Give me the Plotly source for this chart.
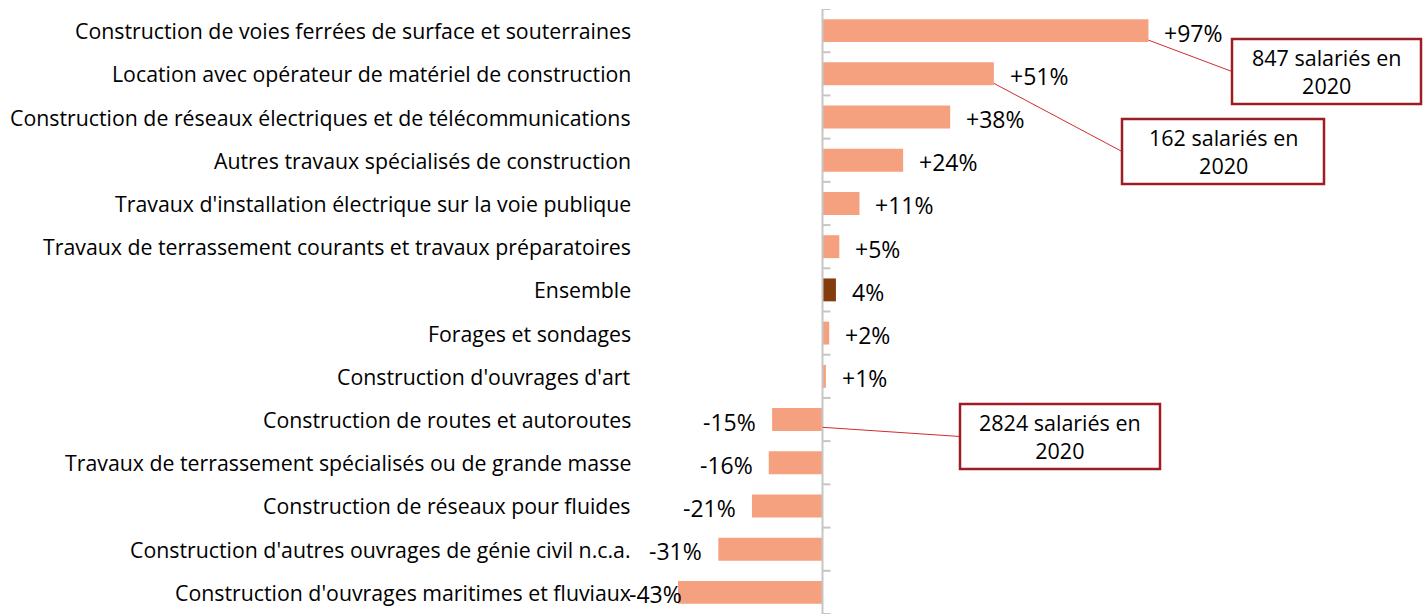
import plotly.graph_objects as go

categories = [
    "Construction de voies ferrées de surface et souterraines",
    "Location avec opérateur de matériel de construction",
    "Construction de réseaux électriques et de télécommunications",
    "Autres travaux spécialisés de construction",
    "Travaux d'installation électrique sur la voie publique",
    "Travaux de terrassement courants et travaux préparatoires",
    "Ensemble",
    "Forages et sondages",
    "Construction d'ouvrages d'art",
    "Construction de routes et autoroutes",
    "Travaux de terrassement spécialisés ou de grande masse",
    "Construction de réseaux pour fluides",
    "Construction d'autres ouvrages de génie civil n.c.a.",
    "Construction d'ouvrages maritimes et fluviaux",
]
values = [97, 51, 38, 24, 11, 5, 4, 2, 1, -15, -16, -21, -31, -43]

callout_rows = [0, 1, 9]
callout_texts = ["847 salariés en<br>2020", "162 salariés en<br>2020", "2824 salariés en<br>2020"]

# ---- layout geometry (pixels) ----
W, H = 1427, 614
TOP = 9
ZERO_PX = 822.5
SCALE = 3.36  # px per percentage point
x_lo = -ZERO_PX / SCALE
x_hi = (W - ZERO_PX) / SCALE
n = len(categories)
row_h = (H - TOP) / n

def px_to_x(px):
    return (px - ZERO_PX) / SCALE

def py_to_row(py):
    return (py - TOP) / row_h - 0.5

def px_paper(px):
    return px / W

def py_paper(py):
    return (H - py) / (H - TOP)

BAR_COLOR = "#F5A07F"
ENS_COLOR = "#843C0C"
colors = [ENS_COLOR if c == "Ensemble" else BAR_COLOR for c in categories]

fig = go.Figure(go.Bar(
    x=values, y=categories, orientation="h",
    marker=dict(color=colors, line=dict(width=0)),
    width=0.53, hoverinfo="skip",
))

FONT = "Open Sans"
annotations = []
# category labels
for c in categories:
    annotations.append(dict(
        x=px_paper(633), xref="paper", y=c, yref="y",
        text=c, showarrow=False, xanchor="right", yanchor="middle",
        font=dict(family=FONT, size=21.3, color="#000000"),
    ))
# value labels
for i, (c, v) in enumerate(zip(categories, values)):
    txt = f"{v}%" if c == "Ensemble" else f"{v:+d}%"
    if v >= 0:
        annotations.append(dict(x=v, y=c, xref="x", yref="y", text=txt, showarrow=False,
                                xanchor="left", yanchor="middle", xshift=14, yshift=-2,
                                font=dict(family=FONT, size=23, color="#000000")))
    else:
        shift = 6 if i == n - 1 else -14
        annotations.append(dict(x=v, y=c, xref="x", yref="y", text=txt, showarrow=False,
                                xanchor="right", yanchor="middle", xshift=shift, yshift=-2,
                                font=dict(family=FONT, size=23, color="#000000")))

shapes = []
# vertical axis line and ticks
shapes.append(dict(type="line", xref="x", yref="paper", x0=0, x1=0, y0=0, y1=1,
                   line=dict(color="#C6C6C6", width=2)))
for k in range(n + 1):
    shapes.append(dict(type="line", xref="x", yref="y", xsizemode="pixel", xanchor=0,
                       x0=0, x1=8, y0=k - 0.5, y1=k - 0.5,
                       line=dict(color="#C6C6C6", width=2)))

# callout boxes (pixel geometry)
boxes = [(1232, 39, 1421, 104), (1122, 119, 1324, 184), (960, 404, 1160, 469)]
starts_off = [0.22, 0.22, 0.18]
for (row, txt, box, off) in zip(callout_rows, callout_texts, boxes, starts_off):
    x0b, y0b, x1b, y1b = box
    v = values[row]
    # leader line from bar end to box left edge
    shapes.append(dict(type="line", xref="x", yref="y",
                       x0=v if v > 0 else 0, y0=row + off,
                       x1=px_to_x(x0b), y1=py_to_row((y0b + y1b) / 2),
                       line=dict(color="#D42A2F", width=1)))
    shapes.append(dict(type="rect", xref="paper", yref="paper",
                       x0=px_paper(x0b), x1=px_paper(x1b),
                       y0=py_paper(y1b), y1=py_paper(y0b),
                       fillcolor="white", line=dict(color="#9E1C24", width=2.5)))
    annotations.append(dict(x=px_paper((x0b + x1b) / 2), y=py_paper((y0b + y1b) / 2),
                            xref="paper", yref="paper", text=txt, showarrow=False,
                            xanchor="center", yanchor="middle",
                            font=dict(family=FONT, size=21.5, color="#000000")))

fig.update_layout(
    width=W, height=H,
    margin=dict(l=0, r=0, t=TOP, b=0, pad=0),
    paper_bgcolor="white", plot_bgcolor="white",
    showlegend=False,
    bargap=0.47,
    xaxis=dict(range=[x_lo, x_hi], visible=False, showgrid=False, zeroline=False, fixedrange=True),
    yaxis=dict(type="category", categoryorder="array", categoryarray=categories,
               range=[n - 0.5, -0.5], visible=False, showgrid=False, fixedrange=True),
    annotations=annotations,
    shapes=shapes,
    font=dict(family=FONT),
)

fig.write_html("out.html", config={"displayModeBar": False},
               post_script="document.body.style.margin='0';document.body.style.overflow='hidden';")
